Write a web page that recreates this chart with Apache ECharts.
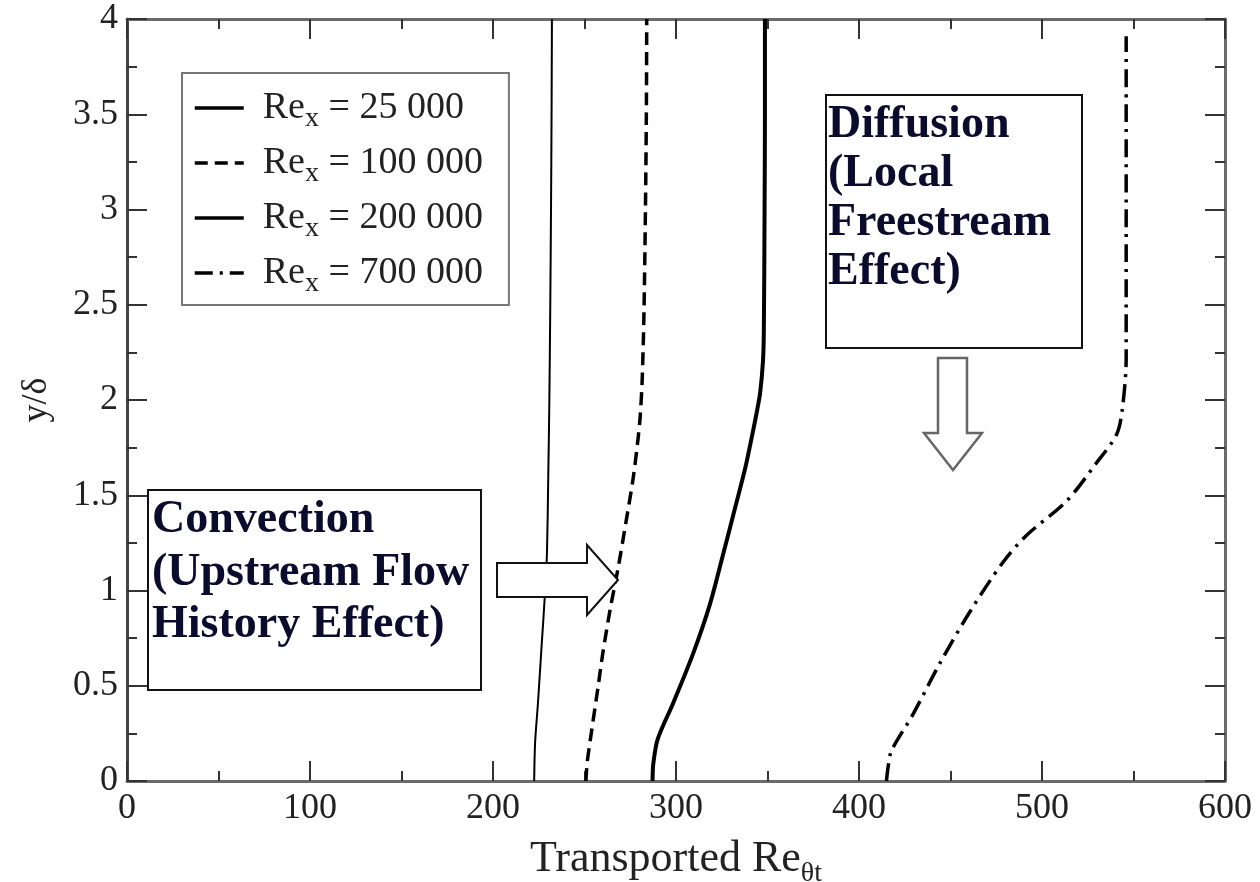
<!DOCTYPE html>
<html>
<head>
<meta charset="utf-8">
<script src="https://cdn.jsdelivr.net/npm/echarts@6/dist/echarts.min.js"></script>
<style>
  html, body { margin: 0; padding: 0; background: #fff; }
  #chart { width: 1260px; height: 882px; }
</style>
</head>
<body>
<div id="chart"></div>
<script>
// Transported Re_theta_t profiles across the boundary layer at four stations.
const SERIF = '"Liberation Serif", "Times New Roman", "DejaVu Serif", serif';

// Re_x = 25 000
const y25k  = [0, 0.2, 0.4, 0.7, 1.0, 1.2, 1.6, 2.0, 2.5, 3.0, 3.5, 4.0];
const re25k = [222.5, 223, 224.5, 226.5, 228.5, 229.5, 230.2, 230.8, 231.3, 231.7, 232, 232.2];

// Re_x = 100 000
const y100k  = [0, 0.1, 0.27, 0.5, 0.67, 0.9, 1.12, 1.35, 1.59, 1.8, 1.91, 2.1, 2.46, 3.0, 3.5, 4.0];
const re100k = [250.8, 251.5, 254, 257.5, 260, 264, 268.4, 272.5, 276.6, 279.3, 280.4, 281.5, 282.5, 283.3, 283.8, 284];

// Re_x = 200 000
const y200k  = [0, 0.09, 0.22, 0.41, 0.67, 0.93, 1.2, 1.46, 1.65, 1.8, 1.93, 2.04, 2.2, 2.36, 3.0, 3.5, 4.0];
const re200k = [287.2, 287.6, 290, 298.5, 309.4, 318.6, 326, 333, 338, 341.3, 344, 346, 347.5, 348, 348.4, 348.6, 348.6];

// Re_x = 700 000
const y700k  = [0, 0.08, 0.16, 0.35, 0.62, 0.89, 1.15, 1.29, 1.47, 1.66, 1.82, 1.96, 2.22, 3.0, 3.5, 3.91];
const re700k = [415, 416, 417.8, 429.5, 444.3, 460.7, 478.8, 491.6, 513.5, 529, 540.8, 544, 546, 546, 546, 546];

const stationLabels = ['25 000', '100 000', '200 000', '700 000'];

// Axis ranges: [min, max, interval]
const xRange = [0, 600, 100];
const yRange = [0, 4, 0.5];

const pairs = (xs, ys) => xs.map((x, i) => [x, ys[i]]);

const lineStyles = [
  { width: 2,   type: 'solid' },
  { width: 3.5, type: [13, 7] },
  { width: 4,   type: 'solid' },
  { width: 3.5, type: [18, 7, 3, 7] }
];
const profiles = [pairs(re25k, y25k), pairs(re100k, y100k), pairs(re200k, y200k), pairs(re700k, y700k)];

const frameLine = { show: true, onZero: false, lineStyle: { color: '#6a6a6a', width: 3 } };
const tickStyle = { color: '#333', width: 2 };

function xAxisDef(pos, showLabel) {
  return {
    type: 'value', position: pos,
    min: xRange[0], max: xRange[1], interval: xRange[2],
    axisLine: frameLine,
    axisTick: { show: true, inside: true, length: 20, lineStyle: tickStyle },
    minorTick: { show: true, splitNumber: 2, length: 10, lineStyle: tickStyle },
    splitLine: { show: false }, minorSplitLine: { show: false },
    axisLabel: { show: showLabel, fontFamily: SERIF, fontSize: 36, color: '#222', margin: 10 }
  };
}
function yAxisDef(pos, showLabel) {
  return {
    type: 'value', position: pos,
    min: yRange[0], max: yRange[1], interval: yRange[2],
    axisLine: pos === 'left' ? { show: true, onZero: false, lineStyle: { color: '#444', width: 3 } } : frameLine,
    axisTick: { show: true, inside: true, length: 20, lineStyle: tickStyle },
    minorTick: { show: true, splitNumber: 2, length: 10, lineStyle: tickStyle },
    splitLine: { show: false }, minorSplitLine: { show: false },
    axisLabel: { show: showLabel, fontFamily: SERIF, fontSize: 36, color: '#222', margin: 9 }
  };
}

const xBottom = Object.assign(xAxisDef('bottom', true), {
  name: '{a|Transported Re}{s|θt}',
  nameLocation: 'middle', nameGap: 46,
  nameTextStyle: {
    rich: {
      a: { fontFamily: SERIF, fontSize: 44, color: '#222', lineHeight: 48 },
      s: { fontFamily: SERIF, fontSize: 28, color: '#222', lineHeight: 48, padding: [28, 0, 0, 0] }
    }
  }
});
const yLeft = Object.assign(yAxisDef('left', true), {
  name: 'y/δ', nameLocation: 'middle', nameGap: 72, nameRotate: 90,
  nameTextStyle: { fontFamily: SERIF, fontSize: 36, color: '#222' }
});

const chart = echarts.init(document.getElementById('chart'), null, { renderer: 'canvas' });

chart.setOption({
  backgroundColor: '#fff',
  animation: false,
  grid: { left: 127, right: 35, top: 19, bottom: 101, containLabel: false, outerBoundsMode: 'none' },
  xAxis: [xBottom, xAxisDef('top', false)],
  yAxis: [yLeft, yAxisDef('right', false)],
  legend: {
    orient: 'vertical', left: 182, top: 73,
    padding: [10, 26, 7, 11],
    itemGap: 5, itemWidth: 49, itemHeight: 16,
    borderColor: '#777', borderWidth: 2, backgroundColor: '#fff',
    itemStyle: { opacity: 0 },
    lineStyle: { width: 3.5 },
    data: stationLabels,
    formatter: name => '{a|Re}{s|x}{a| = ' + name + '}',
    textStyle: {
      color: '#222', padding: [0, 0, 0, 14],
      rich: {
        a: { fontFamily: SERIF, fontSize: 38, color: '#222', lineHeight: 42 },
        s: { fontFamily: SERIF, fontSize: 28, color: '#222', lineHeight: 20, padding: [22, 0, 0, 0] }
      }
    }
  },
  series: profiles.map((data, i) => ({
    name: stationLabels[i],
    type: 'line',
    data: data,
    xAxisIndex: 0, yAxisIndex: 0,
    showSymbol: false, symbol: 'none',
    smooth: 0.3,
    color: '#000',
    lineStyle: Object.assign({ color: '#000' }, lineStyles[i]),
    z: 3
  })),
  graphic: [
    // Convection note
    { type: 'rect', z: 100, shape: { x: 148, y: 490, width: 333, height: 200 },
      style: { fill: '#fff', stroke: '#111', lineWidth: 2 } },
    { type: 'text', z: 101, x: 152, y: 494,
      style: { text: 'Convection\n(Upstream Flow\nHistory Effect)', font: 'bold 46px ' + SERIF,
               fill: '#0b0b2e', lineHeight: 52.5 } },
    { type: 'polygon', z: 100,
      shape: { points: [[497, 563], [587, 563], [587, 545], [618, 580], [587, 615], [587, 597], [497, 597]] },
      style: { fill: '#fff', stroke: '#111', lineWidth: 2 } },
    // Diffusion note
    { type: 'rect', z: 100, shape: { x: 826, y: 95, width: 256, height: 253 },
      style: { fill: '#fff', stroke: '#111', lineWidth: 2 } },
    { type: 'text', z: 101, x: 828, y: 101,
      style: { text: 'Diffusion\n(Local\nFreestream\nEffect)', font: 'bold 46px ' + SERIF,
               fill: '#0b0b2e', lineHeight: 49 } },
    { type: 'polygon', z: 100,
      shape: { points: [[938, 358], [967, 358], [967, 433], [982, 433], [953, 470], [924, 433], [938, 433]] },
      style: { fill: '#fff', stroke: '#666', lineWidth: 2.5 } }
  ]
});
</script>
</body>
</html>
